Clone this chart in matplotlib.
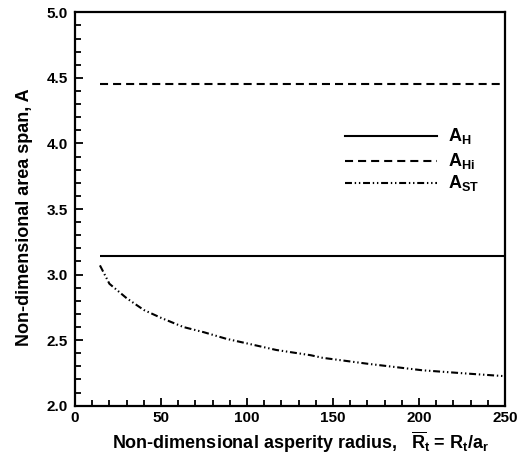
import matplotlib
matplotlib.use("Agg")
import matplotlib.pyplot as plt
from matplotlib.ticker import MultipleLocator
from matplotlib.lines import Line2D

plt.rcParams['font.family'] = ['Liberation Sans', 'DejaVu Sans']
plt.rcParams['font.weight'] = 'bold'
plt.rcParams['mathtext.fontset'] = 'custom'
plt.rcParams['mathtext.rm'] = 'Liberation Sans:bold'
plt.rcParams['mathtext.it'] = 'Liberation Sans:bold'
plt.rcParams['mathtext.bf'] = 'Liberation Sans:bold'
plt.rcParams['lines.scale_dashes'] = False

# Data
x_range = [14.5, 250]
A_H = 3.14
A_Hi = 4.45
x_st = [14.5, 20, 30, 40, 50, 63, 75, 88, 100, 117, 137, 144, 170, 202, 228, 250]
y_st = [3.07, 2.93, 2.82, 2.73, 2.67, 2.60, 2.56, 2.51, 2.475, 2.425, 2.385, 2.365, 2.32, 2.27, 2.245, 2.225]
labels = [r'$\mathrm{A}_{\mathrm{H}}$', r'$\mathrm{A}_{\mathrm{Hi}}$', r'$\mathrm{A}_{\mathrm{ST}}$']

fig = plt.figure(figsize=(5.23, 4.58), dpi=100)
ax = fig.add_axes([0.1434, 0.1142, 0.8222, 0.8589])

lw = 1.5
dash_hi = (0, (5.8, 3.6))
dash_st = (0, (5.0, 2.0, 1.0, 2.0, 1.0, 2.0))
ax.plot(x_range, [A_H, A_H], color='black', lw=lw, solid_capstyle='butt')
ax.plot(x_range, [A_Hi, A_Hi], color='black', lw=lw, linestyle=dash_hi)
ax.plot(x_st, y_st, color='black', lw=lw, linestyle=dash_st)

ax.set_xlim(0, 250)
ax.set_ylim(2.0, 5.0)
ax.xaxis.set_major_locator(MultipleLocator(50))
ax.xaxis.set_minor_locator(MultipleLocator(10))
ax.yaxis.set_major_locator(MultipleLocator(0.5))
ax.yaxis.set_minor_locator(MultipleLocator(0.1))
ax.yaxis.set_major_formatter(matplotlib.ticker.FormatStrFormatter('%.1f'))
ax.tick_params(which='both', direction='in', top=False, right=False, width=1.3, labelsize=11)
ax.tick_params(which='major', length=6)
ax.tick_params(which='minor', length=4)
ax.tick_params(axis='y', pad=5)
ax.tick_params(axis='x', pad=4)
for s in ax.spines.values():
    s.set_linewidth(1.6)

ax.set_ylabel('Non-dimensional area span, A', fontsize=13, fontweight='bold')
ax.set_xlabel(r'Non-dimensional asperity radius,   $\overline{\mathrm{R}}_{\mathrm{t}}$ = R$_{\mathrm{t}}$/a$_{\mathrm{r}}$',
              fontsize=13, fontweight='bold')
ax.xaxis.set_label_coords(0.525, -0.060)
ax.yaxis.set_label_coords(-0.098, 0.48)

# legend drawn manually
styles = ['-', dash_hi, dash_st]
ys = [0.686, 0.622, 0.567]
for st, yy, lab in zip(styles, ys, labels):
    ax.add_line(Line2D([0.628, 0.842], [yy, yy], transform=ax.transAxes, color='black', lw=lw, linestyle=st))
    ax.text(0.868, yy, lab, transform=ax.transAxes, fontsize=13, va='center', ha='left')

fig.savefig('out.png', dpi=100)
